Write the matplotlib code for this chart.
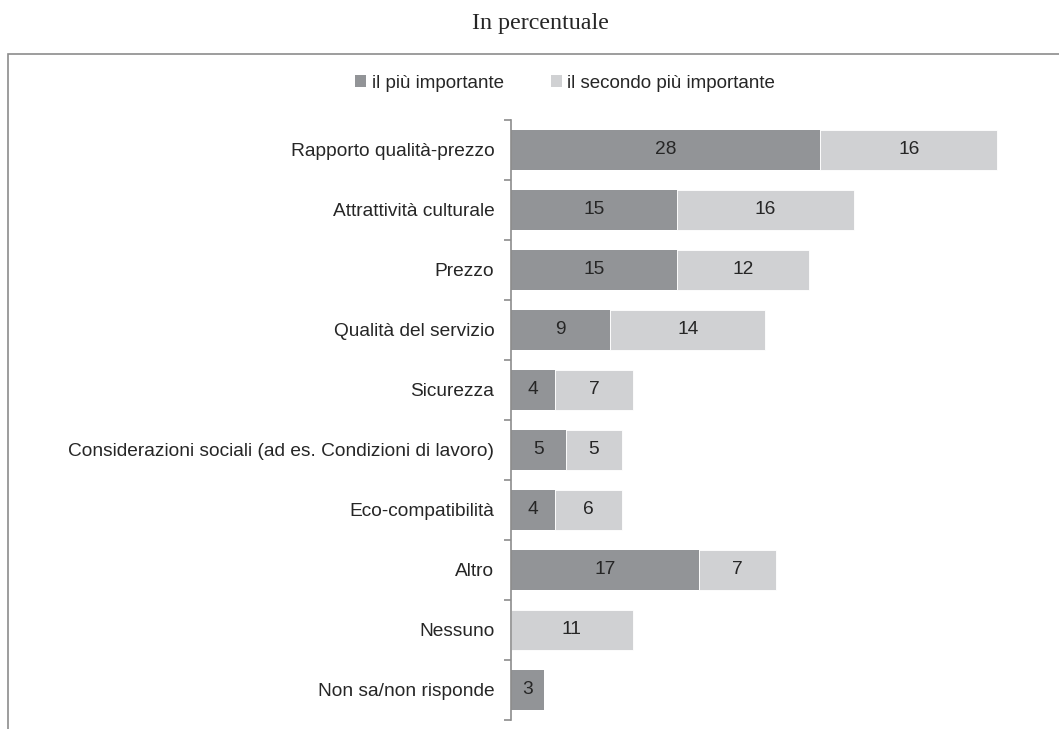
import matplotlib
matplotlib.use("Agg")
import matplotlib.pyplot as plt
from matplotlib.patches import Patch, Rectangle

categories = [
    "Rapporto qualità-prezzo",
    "Attrattività culturale",
    "Prezzo",
    "Qualità del servizio",
    "Sicurezza",
    "Considerazioni sociali (ad es. Condizioni di lavoro)",
    "Eco-compatibilità",
    "Altro",
    "Nessuno",
    "Non sa/non risponde",
]
piu_importante = [28, 15, 15, 9, 4, 5, 4, 17, 0, 3]
secondo_importante = [16, 16, 12, 14, 7, 5, 6, 7, 11, 0]
series_names = ["il più importante", "il secondo più importante"]

dark = "#929497"
light = "#d0d1d3"
axis_grey = "#8c8c8c"
text_col = "#262626"

plt.rcParams["font.family"] = ["Liberation Sans", "DejaVu Sans"]

fig = plt.figure(figsize=(10.59, 7.29), dpi=100, facecolor="w")
W, H = 1059, 729
ax = fig.add_axes([511 / W, 1 - 720 / H, (1050 - 511) / W, 600 / H])

# outer frame around the chart area
fig.patches.append(Rectangle((8 / W, -0.05), 1.1, 1 - 54 / H + 0.05,
                             transform=fig.transFigure, fill=False,
                             edgecolor=axis_grey, linewidth=1.2))

y = list(range(len(categories)))
h = 0.68
ax.barh(y, piu_importante, height=h, color=dark, linewidth=0)
ax.barh(y, secondo_importante, left=piu_importante, height=h, color=light,
        edgecolor="white", linewidth=0.6)

for i in y:
    a, b = piu_importante[i], secondo_importante[i]
    if a:
        ax.text(a / 2, i, str(a), ha="center", va="center",
                fontsize=13.8, color=text_col)
    if b:
        ax.text(a + b / 2, i, str(b), ha="center", va="center",
                fontsize=13.8, color=text_col)

ax.set_ylim(len(categories) - 0.5, -0.5)
ax.set_xlim(0, (1050 - 511) / 11.05)
ax.set_yticks(y)
ax.set_yticklabels(categories, fontsize=13.8, color=text_col)
ax.tick_params(axis="y", which="major", length=0, pad=12)
ax.set_yticks([i - 0.5 for i in range(len(categories) + 1)], minor=True)
ax.tick_params(axis="y", which="minor", length=5, width=1.2, color=axis_grey)
ax.set_xticks([])
for s in ["top", "right", "bottom"]:
    ax.spines[s].set_visible(False)
ax.spines["left"].set_color(axis_grey)
ax.spines["left"].set_linewidth(1.2)

fig.text(540 / W, 1 - 23 / H, "In percentuale", ha="center", va="center",
         fontsize=17.3, family=["Liberation Serif"], color=text_col)

handles = [Patch(facecolor=dark, edgecolor="none"),
           Patch(facecolor=light, edgecolor="none")]
fig.legend(handles, series_names, loc="center", ncol=2,
           bbox_to_anchor=(565 / W, 1 - 83 / H), frameon=False,
           fontsize=13.5, handlelength=0.6, handleheight=0.6,
           handletextpad=0.3, columnspacing=2.5, labelcolor=text_col)

fig.savefig("out.png", dpi=100)
